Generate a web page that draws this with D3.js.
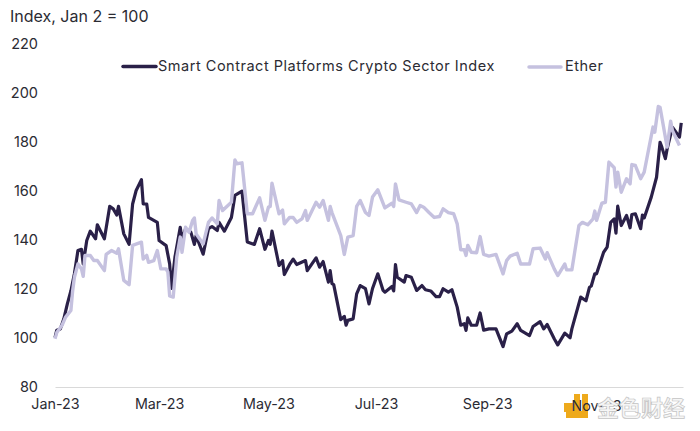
<!DOCTYPE html>
<html>
<head>
<meta charset="utf-8">
<script src="https://cdn.jsdelivr.net/npm/d3@7"></script>
<style>
  html, body { margin: 0; padding: 0; background: #fff; }
  text { font-family: Inter, "Noto Sans", sans-serif; fill: #2b2b33; }
</style>
</head>
<body>
<div id="chart"></div>
<script>
// days counted from Jan 2 2023
const smartDays = [0,1,3,5,7,9,11,13,15,16,18,20,23,24,28,31,33,35,36,39,42,44,46,49,50,52,53,58,59,63,65,66,68,71,72,74,77,79,80,84,87,89,92,93,96,100,102,106,109,113,116,119,121,122,123,127,129,130,133,135,137,142,143,148,150,152,155,156,157,158,162,164,165,166,169,171,173,176,178,180,183,186,187,191,192,193,194,198,199,202,205,208,210,213,216,218,220,223,225,228,230,232,233,234,236,239,241,243,246,250,254,256,259,262,264,269,271,275,277,279,283,285,289,292,293,298,301,303,304,306,307,311,313,315,317,318,319,321,324,326,327,329,332,333,334,338,341,343,344,346,347,350,354,355];
const smartValues = [100,103,103.5,107.6,113.7,119,126,135.5,136,130,139.6,143.4,140.3,146,140.3,153.5,152.5,150,153.5,142.3,138,154.5,160,164.4,154.5,154.5,149,147,139.6,137.5,130,120,132.8,145,140,144.4,143,138,141.6,134,144.4,145.3,143.7,147,143.4,149,158,159.7,139,138,144.4,136,139.6,138,143.4,129.4,131.4,125.7,129.8,132,129.8,131.4,127.3,132.5,128.7,131,122.6,127.3,122,121.6,107.3,108.6,105,107,107.6,117.8,121.2,119.9,113.7,120,126,119.2,118.5,120.8,119,129.8,124.6,122.6,125.3,124.6,119.2,121.2,119.5,119,116.7,116.7,119.9,118.5,119.5,112.4,105,105.6,102.9,108,105,105,110,103,103.5,103.5,96.3,101.5,102.6,105.6,102.9,100.8,104.5,106.5,103.5,105.3,99.5,97,101.8,99.9,103.5,116.5,115,120.5,121,126,126,134.8,136.9,147,148.4,142.6,153.6,145.7,149.8,144.8,150.2,150.5,144.4,150,148.8,157.3,165.4,179.7,177.7,173,177,185.8,181.8,187.6];

const etherDays = [0,1,4,6,9,10,11,13,15,16,17,20,22,24,28,29,32,35,36,39,42,44,49,50,52,53,56,58,60,63,64,65,67,69,71,72,74,76,78,79,80,84,87,89,92,93,95,100,102,103,106,109,112,116,119,121,122,123,127,129,130,133,135,137,140,142,143,148,150,152,155,156,157,162,164,166,169,171,173,176,178,180,183,187,191,192,193,195,199,202,205,207,209,212,215,218,220,223,226,228,230,232,233,234,236,239,241,243,246,250,254,256,258,262,264,269,271,275,278,279,283,285,289,290,293,297,299,302,305,306,307,310,312,314,317,318,319,321,324,326,327,329,332,334,339,340,342,343,347,349,350,354];
const etherValues = [99.5,102,105,108.3,111,119,124.6,130,128,125,133.5,133.5,131.4,131.4,127.3,133.9,135.5,134.4,136.2,123.3,121.6,137.6,138.9,132,133.5,130.7,131.4,135.5,128,128,126.7,117,116.5,132.8,141,134.8,145,143,147.8,148.8,142.3,138.2,147,148.8,146.4,155.9,151.8,155.2,172.5,170.9,171.3,150.5,150.5,157,147.8,153.2,153.5,163,150.5,152,146.4,149,149,147,148.4,151.8,147.8,155.2,153.2,155.9,147.8,153.5,151,141.6,133.9,141,141.6,153.5,155.9,151,149.8,157.3,160.3,152.9,154.8,153.5,162.7,156.2,155.2,154.5,151,153.9,153.2,151,149,149.4,152.5,151,150.5,146.4,135.8,135.8,133.5,137.6,134.8,134.6,141.2,133.9,133.2,133.9,126,131.4,133.2,134.4,130,130,136.2,136.5,132,134.6,128,125.3,130,127.6,127.6,145.7,147,146,148.4,151.6,147.8,154.8,155.2,171.6,169.3,161.4,167.5,159.3,164.8,162.7,170.6,170.2,164.8,167.5,185.9,183.8,194.3,194,177.7,188.3,184.5,178.4];

const yTicks = [80, 100, 120, 140, 160, 180, 200, 220];
const xTickDays = [0, 59, 121, 182, 245];
const xTickLabels = ["Jan-23", "Mar-23", "May-23", "Jul-23", "Sep-23"];
const lastTickDay = 307;
const lastTickLabel = "Nov-23";

const yTitle = "Index, Jan 2 = 100";
const smartName = "Smart Contract Platforms Crypto Sector Index";
const etherName = "Ether";

const width = 700,
  height = 431;

const darkColor = "#2a2048",
  lightColor = "#c5c1df";

const svg = d3
  .select("#chart")
  .append("svg")
  .attr("width", width)
  .attr("height", height)
  .style("display", "block");

const x = d3.scaleLinear().domain([0, 356]).range([55, 683]);
const y = d3.scaleLinear().domain([80, 220]).range([386.5, 43.5]);

// y axis, labels only
const yAxis = svg
  .append("g")
  .attr("transform", "translate(38,0)")
  .call(d3.axisLeft(y).tickValues(yTicks).tickSize(0).tickPadding(0));
yAxis.select(".domain").remove();
yAxis.selectAll("text").style("font-size", "14.5px");

// x axis, the last label is drawn after the logo
const xAxis = svg
  .append("g")
  .attr("transform", "translate(0,387)")
  .call(
    d3
      .axisBottom(x)
      .tickValues(xTickDays)
      .tickFormat((d, i) => xTickLabels[i])
      .tickSize(0)
      .tickPadding(12)
  );
xAxis.select(".domain").attr("stroke", "#d9d9d9").attr("stroke-width", 1);
xAxis.selectAll("text").style("font-size", "14.3px");

svg
  .append("text")
  .attr("x", 10)
  .attr("y", 22)
  .style("font-size", "16px")
  .text(yTitle);

const line = d3
  .line()
  .x((d) => x(d[0]))
  .y((d) => y(d[1]));

const createLine = (days, values, color, w) => {
  svg
    .append("path")
    .datum(days.map((d, i) => [d, values[i]]))
    .attr("fill", "none")
    .attr("stroke", color)
    .attr("stroke-width", w)
    .attr("stroke-linejoin", "round")
    .attr("d", line);
};

createLine(smartDays, smartValues, darkColor, 3.2);
createLine(etherDays, etherValues, lightColor, 3.4);

// legend
const legend = svg.append("g");
legend
  .append("line")
  .attr("x1", 123)
  .attr("x2", 156)
  .attr("y1", 66.5)
  .attr("y2", 66.5)
  .attr("stroke", darkColor)
  .attr("stroke-width", 3.5)
  .attr("stroke-linecap", "round");
legend
  .append("text")
  .attr("x", 158)
  .attr("y", 71)
  .style("font-size", "14.5px")
  .style("letter-spacing", "0.52px")
  .text(smartName);
legend
  .append("line")
  .attr("x1", 529)
  .attr("x2", 561)
  .attr("y1", 67)
  .attr("y2", 67)
  .attr("stroke", lightColor)
  .attr("stroke-width", 3.5)
  .attr("stroke-linecap", "round");
legend
  .append("text")
  .attr("x", 565)
  .attr("y", 71)
  .style("font-size", "14.5px")
  .style("letter-spacing", "0.52px")
  .text(etherName);

// watermark over the last tick label
const mark = svg.append("g").attr("fill", "#eeaa1c");
mark.append("rect").attr("x", 564).attr("y", 403).attr("width", 9).attr("height", 9);
mark.append("rect").attr("x", 574).attr("y", 394).attr("width", 6).attr("height", 18);
mark.append("rect").attr("x", 582).attr("y", 394).attr("width", 6).attr("height", 24);
mark.append("rect").attr("x", 566).attr("y", 411).attr("width", 22).attr("height", 7);
svg
  .append("text")
  .attr("x", x(lastTickDay))
  .attr("y", 411)
  .attr("text-anchor", "middle")
  .style("font-size", "14.3px")
  .text(lastTickLabel);
svg
  .append("text")
  .attr("x", 597)
  .attr("y", 416)
  .style("font-family", '"Noto Sans CJK SC"')
  .style("font-size", "22px")
  .style("font-weight", 700)
  .style("fill", "#f6f6f6")
  .style("stroke", "#c4c4c4")
  .style("stroke-width", 0.7)
  .text("金色财经");
</script>
</body>
</html>
